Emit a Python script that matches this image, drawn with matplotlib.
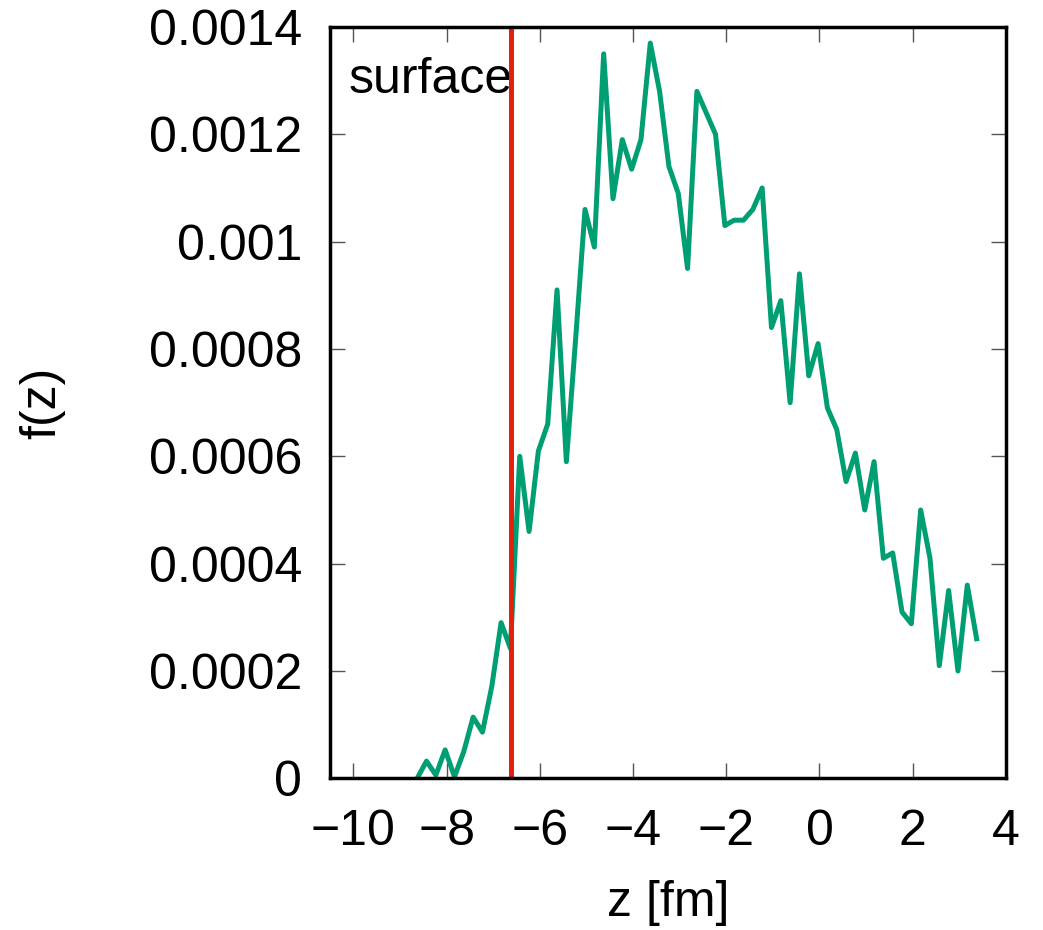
import matplotlib
matplotlib.use("Agg")
import matplotlib.pyplot as plt

# z grid [fm] and distribution f(z)
z = [-8.63, -8.43, -8.23, -8.03, -7.83, -7.63, -7.43, -7.23, -7.03, -6.83,
     -6.63, -6.43, -6.23, -6.03, -5.83, -5.63, -5.43, -5.23, -5.03, -4.83,
     -4.63, -4.43, -4.23, -4.03, -3.83, -3.63, -3.43, -3.23, -3.03, -2.83,
     -2.63, -2.43, -2.23, -2.03, -1.83, -1.63, -1.43, -1.23, -1.03, -0.83,
     -0.63, -0.43, -0.23, -0.03, 0.17, 0.37, 0.57, 0.77, 0.97, 1.17,
     1.37, 1.57, 1.77, 1.97, 2.17, 2.37, 2.57, 2.77, 2.97, 3.17, 3.37]
f = [0.0, 0.000032, 0.000006, 0.000053, 0.000003, 0.00005, 0.000114, 0.000086, 0.000171, 0.00029,
     0.000242, 0.0006, 0.00046, 0.00061, 0.00066, 0.00091, 0.00059, 0.00082, 0.00106, 0.00099,
     0.00135, 0.00108, 0.00119, 0.001135, 0.00119, 0.00137, 0.00128, 0.00114, 0.00109, 0.00095,
     0.00128, 0.00124, 0.0012, 0.00103, 0.00104, 0.00104, 0.00106, 0.0011, 0.00084, 0.00089,
     0.0007, 0.00094, 0.00075, 0.00081, 0.00069, 0.00065, 0.000553, 0.000606, 0.0005, 0.00059,
     0.00041, 0.00042, 0.00031, 0.000288, 0.0005, 0.00041, 0.00021, 0.00035, 0.0002, 0.00036,
     0.00026]

surface_z = -6.62

xticks = [-10, -8, -6, -4, -2, 0, 2, 4]
yticks = [0, 0.0002, 0.0004, 0.0006, 0.0008, 0.001, 0.0012, 0.0014]
ytick_labels = ["0", "0.0002", "0.0004", "0.0006", "0.0008", "0.001", "0.0012", "0.0014"]

plt.rcParams.update({
    "font.family": ["Liberation Sans", "DejaVu Sans"],
    "font.size": 36,
})

fig = plt.figure(figsize=(10.43, 9.3), dpi=100)
ax = fig.add_axes([0.3164, 0.1631, 0.6481, 0.8079])

ax.plot(z, f, color="#009e73", linewidth=3.6, zorder=3)
ax.axvline(surface_z, color="#e51e10", linewidth=3.6, zorder=4)
ax.text(0.027, 0.929, "surface", transform=ax.transAxes, ha="left", va="center", fontsize=36)

ax.set_xlim(-10.5, 4)
ax.set_ylim(0, 0.0014)
ax.set_xticks(xticks)
ax.set_yticks(yticks)
ax.set_yticklabels(ytick_labels)

ax.tick_params(direction="in", length=11, width=1.0, color="#555555",
               top=True, right=True, labelsize=36)
ax.tick_params(axis="x", pad=22)
ax.tick_params(axis="y", pad=20)
for s in ax.spines.values():
    s.set_linewidth(2.5)
    s.set_zorder(5)

ax.set_xlabel("z [fm]", labelpad=18)
ax.set_ylabel("f(z)", labelpad=60)

fig.savefig("out.png", dpi=100)
